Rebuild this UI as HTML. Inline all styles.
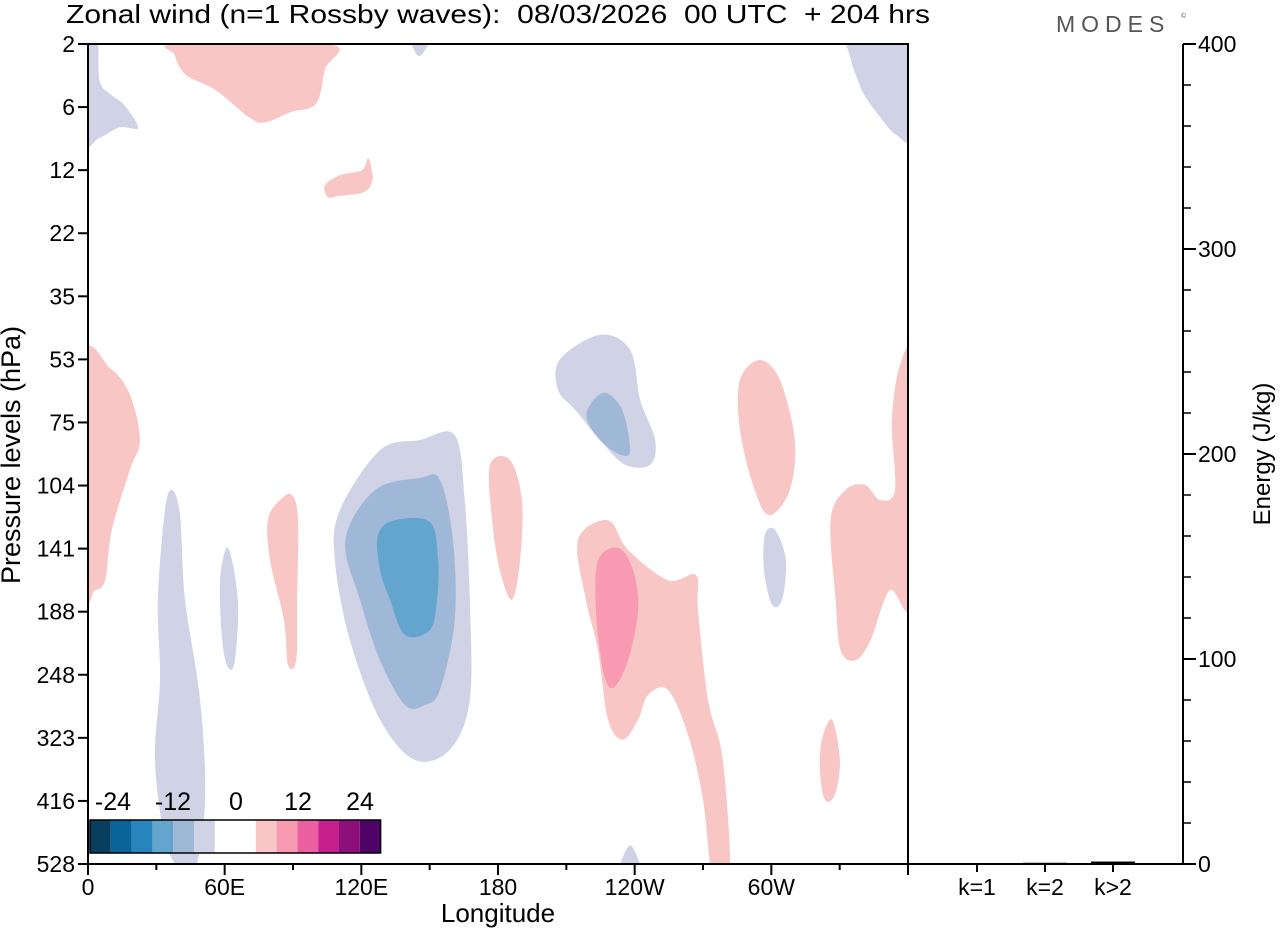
<!DOCTYPE html>
<html><head><meta charset="utf-8"><style>
body{margin:0;background:#fff;}
svg text{font-family:"Liberation Sans",Arial,sans-serif;white-space:pre;}
</style></head><body>
<svg id="c" width="1280" height="930" xmlns="http://www.w3.org/2000/svg">
<defs><clipPath id="pc"><rect x="88" y="44" width="820" height="820"/></clipPath></defs>
<text x="66" y="23" font-size="26" textLength="864" lengthAdjust="spacingAndGlyphs">Zonal wind (n=1 Rossby waves):  08/03/2026  00 UTC  + 204 hrs</text>
<text x="1056" y="32" font-size="23" fill="#555" letter-spacing="6">MODES</text>
<text x="1181" y="18" font-size="7" fill="#555">©</text>
<g id="blobs" clip-path="url(#pc)"></g>
<g id="axes"></g>
</svg>
<script>
const levels=[2,6,12,22,35,53,75,104,141,188,248,323,416,528];
const lonTicks=[0,60,120,180,240,300];
const lonLabels=['0','60E','120E','180','120W','60W'];
const energyTicks=[0,100,200,300,400];
const kLabels=['k=1','k=2','k>2'];
const kEnergy=[0,0.6,1.2];
const legendLabels=['-24','-12','0','12','24'];
const legendColors=['#083f5e','#0b6499','#2884bd','#63a5cd','#a0b8d8','#d0d2e6','#ffffff','#f8c6c4','#f89bb2','#ec5fa0','#c91f8c','#8d0f7c','#4e0367'];
const blobColors=['#f8c6c4','#d0d2e6','#d0d2e6','#d0d2e6','#f8c6c4','#f8c6c4','#d0d2e6','#d0d2e6','#f8c6c4','#d0d2e6','#a0b8d8','#63a5cd','#f8c6c4','#d0d2e6','#a0b8d8','#f8c6c4','#f89bb2','#d0d2e6','#f8c6c4','#d0d2e6','#f8c6c4','#f8c6c4'];
const blobPts=[
[[39,0],[106,0],[104,0.4],[100,0.95],[89,1.08],[78,1.24],[71,1.17],[56,0.73],[43,0.49],[38,0.17]],
[[-2,-0.2],[4,-0.2],[5,0.57],[10,0.8],[16,0.97],[22,1.33],[14,1.32],[5,1.49],[-2,1.52]],
[[141,-0.2],[151,-0.2],[147,0.15],[144,0.15]],
[[334.5,-0.2],[362,-0.2],[362,1.44],[354.8,1.44],[348,1.17],[340.8,0.81],[338,0.57],[335,0.25]],
[[104,2.24],[110.6,2.08],[120.2,2.0],[123,1.81],[124.6,2.0],[124.7,2.19],[121,2.35],[110,2.41],[105.4,2.43]],
[[-2,5.04],[9.7,5.14],[18.4,5.56],[22.8,6.28],[18.4,6.75],[10.5,7.7],[7.5,8.5],[3,8.66],[-2,8.66]],
[[36.9,7.07],[40.4,7.47],[42.6,8.81],[49.2,10.4],[51.4,11.98],[47,13.1],[40.4,13.1],[33.8,12.6],[29.4,11.35],[31.6,10.08],[30.7,8.81],[33.8,7.39]],
[[61.5,7.99],[65.8,8.81],[64.5,9.77],[61.5,9.89],[58.9,9.45],[58,8.5]],
[[84.3,7.23],[89.5,7.15],[92.2,7.54],[91.8,8.81],[91.4,9.77],[87.8,9.84],[86,9.13],[79.9,8.18],[79,7.54]],
[[110.6,7.39],[128.2,6.44],[145.7,6.28],[161,6.2],[165.4,7.23],[167.6,8.81],[167.6,10.4],[158.8,11.19],[143.5,11.35],[128.2,10.71],[115,9.45],[108.4,8.18]],
[[113,7.86],[126,7.07],[145.7,6.88],[154.5,6.91],[160.2,7.86],[161,9.13],[154.5,10.24],[147.9,10.48],[139.2,10.48],[128.2,9.77],[119.4,8.81]],
[[127.3,7.78],[134.7,7.55],[150.1,7.58],[153.7,8.18],[153.2,8.81],[150.1,9.29],[139.2,9.37],[132.6,8.81],[128.2,8.34]],
[[176.5,6.67],[185.2,6.59],[190.5,7.23],[189.7,8.18],[186.1,8.81],[180.8,8.34],[177.4,7.55]],
[[207.2,5.0],[224.8,4.61],[238,4.85],[242.4,5.64],[249,6.28],[246.8,6.67],[235.8,6.67],[224.8,6.28],[213.9,5.8],[206.3,5.48]],
[[220.4,5.72],[227,5.53],[234.5,5.8],[238,6.44],[233.6,6.51],[224.8,6.28],[219.1,5.96]],
[[215.1,7.86],[228.3,7.55],[237.1,8.02],[254.6,8.5],[266.9,8.42],[267.8,8.97],[272.2,10.4],[278.7,11.35],[281.8,13.2],[274.3,13.2],[270,11.98],[263.4,10.95],[254.6,10.24],[245.9,10.32],[241.5,10.71],[234.9,11.03],[228.3,10.71],[223.9,9.61],[218.6,8.81]],
[[224,8.18],[232.8,7.99],[239.3,8.34],[241.5,8.97],[237.1,9.77],[230.5,10.21],[226.1,9.93],[223,8.97]],
[[233.6,13.1],[238,12.7],[242.4,13.1]],
[[286.2,5.33],[295,5.01],[303.8,5.33],[310.3,6.28],[308.1,7.07],[299.3,7.47],[292.7,7.07],[286.2,6.12]],
[[297.2,7.78],[301.6,7.7],[306.4,8.18],[304.7,8.81],[300.3,8.89],[296.8,8.34]],
[[356.5,5.09],[362,5.09],[362,8.81],[352,8.66],[343.6,9.45],[337,9.77],[330.4,9.61],[328.2,8.81],[326,7.55],[332.5,7.07],[341.1,6.99],[347.7,7.23],[354.3,7.07],[352.9,5.96]],
[[322.2,11.03],[326.6,10.71],[330.1,11.35],[327.9,11.9],[323.5,11.98],[321.3,11.51]]
];
const X0=88,X1=908,Y0=44,Y1=864;
const xLon=l=>X0+(l/360)*(X1-X0);
const yIdx=i=>Y0+i*(Y1-Y0)/(levels.length-1);
const ER0=864,ER1=44;const yE=e=>ER0+(e/400)*(ER1-ER0);
const NS='http://www.w3.org/2000/svg';
const svg=document.getElementById('c'),bl=document.getElementById('blobs'),ax=document.getElementById('axes');
function mk(t,a,p){const e=document.createElementNS(NS,t);for(const k in a)e.setAttribute(k,a[k]);(p||ax).appendChild(e);return e;}
function smooth(pts){const n=pts.length;let d=`M${pts[0][0]},${pts[0][1]}`;for(let i=0;i<n;i++){const p0=pts[(i-1+n)%n],p1=pts[i],p2=pts[(i+1)%n],p3=pts[(i+2)%n];
const c1=[p1[0]+(p2[0]-p0[0])/6,p1[1]+(p2[1]-p0[1])/6],c2=[p2[0]-(p3[0]-p1[0])/6,p2[1]-(p3[1]-p1[1])/6];
d+=`C${c1[0].toFixed(1)},${c1[1].toFixed(1)} ${c2[0].toFixed(1)},${c2[1].toFixed(1)} ${p2[0].toFixed(1)},${p2[1].toFixed(1)}`;}return d+'Z';}
blobPts.forEach((pts,i)=>{const p=mk('path',{d:smooth(pts.map(q=>[xLon(q[0]),yIdx(q[1])])),fill:blobColors[i]},bl);

});
let f=mk('rect',{x:X0,y:Y0,width:X1-X0,height:Y1-Y0,fill:'none',stroke:'#000','stroke-width':2});

f=mk('path',{d:`M908,44V864H1183V44`,fill:'none',stroke:'#000','stroke-width':2});

levels.forEach((l,i)=>{const y=yIdx(i);mk('line',{x1:78,x2:88,y1:y,y2:y,stroke:'#000','stroke-width':2});
const t=mk('text',{x:75,y:y+8,'font-size':23,'text-anchor':'end'});t.textContent=l;
});
let t=mk('text',{x:20,y:455,'font-size':27,'text-anchor':'middle',transform:'rotate(-90 20 455)'});t.textContent='Pressure levels (hPa)';

for(let l=0;l<=360;l+=30){const x=xLon(l);mk('line',{x1:x,x2:x,y1:864,y2:l%60?870:875,stroke:'#000','stroke-width':2});}
lonTicks.forEach((l,i)=>{const t=mk('text',{x:xLon(l),y:895,'font-size':23,'text-anchor':'middle'});t.textContent=lonLabels[i];
});
t=mk('text',{x:498,y:922,'font-size':26,'text-anchor':'middle'});t.textContent='Longitude';

for(let e=0;e<=400;e+=20){const y=yE(e);mk('line',{x1:1183,x2:e%100?1191:1196,y1:y,y2:y,stroke:'#000','stroke-width':e%100?1.5:2});}
energyTicks.forEach(e=>{const t=mk('text',{x:1198,y:yE(e)+8,'font-size':23});t.textContent=e;
});
t=mk('text',{x:1270,y:454,'font-size':24,'text-anchor':'middle',transform:'rotate(-90 1270 454)'});t.textContent='Energy (J/kg)';

kLabels.forEach((k,i)=>{const x=977+i*68;mk('line',{x1:x,x2:x,y1:864,y2:872,stroke:'#000','stroke-width':2});
const b=mk('rect',{x:x-22,y:yE(kEnergy[i]),width:44,height:Math.max(0,864-yE(kEnergy[i])),fill:'#000'});

const t=mk('text',{x:x,y:895,'font-size':23,'text-anchor':'middle'});t.textContent=k;
});
const lg=mk('g',{});
let lx=90;legendColors.forEach((c,i)=>{const w=i==6?41:20.8;mk('rect',{x:lx,y:820,width:w,height:33,fill:c},lg);lx+=w;});
mk('rect',{x:90,y:820,width:lx-90,height:33,fill:'none',stroke:'#000','stroke-width':1.5},lg);
const lpos=[113,173,236,298,360];
legendLabels.forEach((s,i)=>{const t=mk('text',{x:lpos[i],y:810,'font-size':25,'text-anchor':'middle'},lg);t.textContent=s;
});
</script>
</body></html>
